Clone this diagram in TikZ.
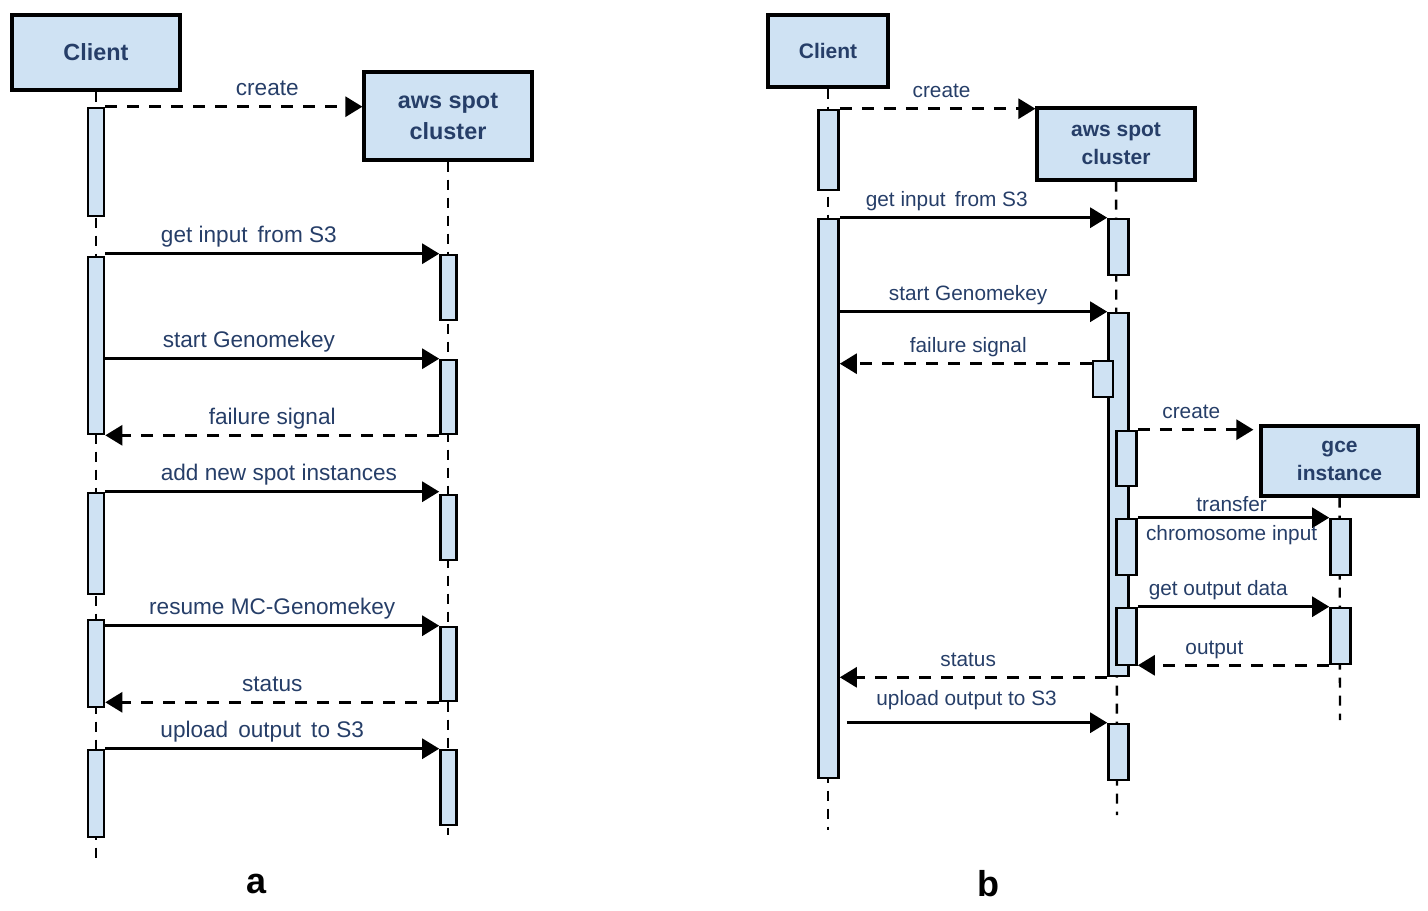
\documentclass[tikz,border=0pt]{standalone}
\usepackage{fontspec}
\setmainfont{Liberation Sans}
\usetikzlibrary{arrows.meta}
\definecolor{barblue}{RGB}{207,226,243}
\definecolor{textblue}{RGB}{38,62,104}

\begin{document}
\begin{tikzpicture}[x=0.5pt, y=-0.5pt,
	objbox/.style=		{rectangle, draw=black, fill=barblue, line width=1.6pt, inner sep=0pt, align=center, text=textblue},
	objboxa/.style=		{objbox, font=\bfseries\fontsize{11.7}{15.5}\selectfont},
	objboxb/.style=		{objbox, font=\bfseries\fontsize{10.5}{14}\selectfont},
	actbar/.style=		{rectangle, draw=black, fill=barblue, line width=1.3pt, inner sep=0pt, minimum width=8pt},
	actbarb/.style=		{actbar, minimum width=10pt},
	lifeline/.style=	{draw=black, line width=1.2pt, dash pattern=on 5pt off 4pt},
	call/.style=		{draw=black, line width=1.4pt, arrows={-{Triangle[length=8.5pt,width=10pt]}}},
	reply/.style=		{call, dash pattern=on 6pt off 5pt},
	msga/.style=		{anchor=base, yshift=5.5pt, inner sep=0pt, text=textblue, font=\fontsize{11.3}{13}\selectfont},
	msgb/.style=		{msga, font=\fontsize{10.4}{12}\selectfont},
	panel/.style=		{font=\bfseries\fontsize{18}{20}\selectfont}]
	\useasboundingbox (0,0) rectangle (1428,910);

	% --- a ---
	\node[objboxa, minimum width=84pt, minimum height=37.5pt] (clienta) at (96,52.5) {Client};
	\node[objboxa, minimum width=84pt, minimum height=44pt] (awsa) at (448,116) {aws spot\\cluster};
	\coordinate (clientaend) at (96,860);
	\coordinate (awsaend) at (448,835);
	\draw[lifeline] (clienta) -- (clientaend);
	\draw[lifeline] (awsa) -- (awsaend);

	\node[actbar, minimum height=54pt] (ca1) at (96,162) {};
	\node[actbar, minimum height=88.5pt] (ca2) at (96,345.5) {};
	\node[actbar, minimum height=50.5pt] (ca3) at (96,543.5) {};
	\node[actbar, minimum height=43.5pt] (ca4) at (96,663.5) {};
	\node[actbar, minimum height=43.5pt] (ca5) at (96,793.5) {};
	\node[actbar, minimum height=32.5pt] (sa1) at (448.5,287.5) {};
	\node[actbar, minimum height=37pt] (sa2) at (448.5,397) {};
	\node[actbar, minimum height=32.5pt] (sa3) at (448.5,527.5) {};
	\node[actbar, minimum height=37pt] (sa4) at (448.5,664) {};
	\node[actbar, minimum height=37.5pt] (sa5) at (448.5,787.5) {};

	\draw[reply] (ca1.north east) -- node[msga, pos=.63] {create} (ca1.north east -| awsa.west);
	\draw[call] (ca2.east |- sa1.north) -- node[msga, pos=.43] {get input\, from S3} (sa1.north west);
	\draw[call] (ca2.east |- sa2.north) -- node[msga, pos=.43] {start Genomekey} (sa2.north west);
	\draw[reply] (sa2.south west) -- node[msga, pos=.5] {failure signal} (ca2.south east);
	\draw[call] (ca3.north east) -- node[msga, pos=.52] {add new spot instances} (ca3.north east -| sa3.west);
	\draw[call] (ca4.east |- sa4.north) -- node[msga, pos=.5] {resume MC-Genomekey} (sa4.north west);
	\draw[reply] (sa4.south west) -- node[msga, pos=.5] {status} (ca4.east |- sa4.south);
	\draw[call] (ca5.north east) -- node[msga, pos=.47] {upload\, output\, to S3} (sa5.north west);

	\node[panel] (labela) at (257,884) {a};

	% --- b ---
	\node[objboxb, minimum width=60pt, minimum height=36pt] (clientb) at (828,51) {Client};
	\node[objboxb, minimum width=79pt, minimum height=36pt] (awsb) at (1116,144) {aws spot\\cluster};
	\node[objboxb, minimum width=78.5pt, minimum height=35pt] (gce) at (1339.5,461) {gce\\instance};
	\coordinate (clientbend) at (828,830);
	\coordinate (awsbend) at (1117,815);
	\coordinate (gceend) at (1340,720);
	\draw[lifeline] (clientb) -- (clientbend);
	\draw[lifeline] (awsb) -- (awsbend);
	\draw[lifeline] (gce) -- (gceend);

	\node[actbarb, minimum height=40pt] (cb1) at (828.5,150) {};
	\node[actbarb, minimum height=279.5pt] (cb2) at (828.5,498.5) {};
	\node[actbarb, minimum height=28pt] (sb1) at (1118.5,247) {};
	\node[actbarb, minimum height=181.5pt] (sb2) at (1118.5,494.5) {};
	\node[actbarb, minimum height=18pt] (sbf) at (1103,379) {};
	\node[actbarb, minimum height=27.5pt] (sbc) at (1126.5,458.5) {};
	\node[actbarb, minimum height=28pt] (sbt) at (1126.5,547) {};
	\node[actbarb, minimum height=28.5pt] (sbo) at (1126.5,636.5) {};
	\node[actbarb, minimum height=28pt] (sb3) at (1118.5,752) {};
	\node[actbarb, minimum height=28pt] (gb1) at (1340.5,547) {};
	\node[actbarb, minimum height=28pt] (gb2) at (1340.5,636) {};

	\draw[reply] (cb1.north east) -- node[msgb, pos=.52] {create} (cb1.north east -| awsb.west);
	\draw[call] (cb2.north east) -- node[msgb, pos=.4] {get input\, from S3} (sb1.north west);
	\draw[call] (cb2.east |- sb2.north) -- node[msgb, pos=.48] {start Genomekey} (sb2.north west);
	\draw[reply] ([yshift=-2pt]sbf.north west) -- node[msgb, pos=.49] {failure signal} ([yshift=-2pt]cb2.east |- sbf.north);
	\draw[reply, shorten >=3pt] (sbc.north east) -- node[msgb, pos=.44] {create} (sbc.north east -| gce.west);
	\draw[call] (sbt.north east) -- node[msgb, pos=.49, yshift=-2.5pt] {transfer}
		node[msgb, pos=.49, yshift=-17pt] {chromosome input} (gb1.north west);
	\draw[call] (sbo.north east) -- node[msgb, pos=.42] {get output data} (gb2.north west);
	\draw[reply] (gb2.south west) -- node[msgb, pos=.6] {output} (gb2.south west -| sbo.east);
	\draw[reply] (sb2.south west) -- node[msgb, pos=.52] {status} (cb2.east |- sb2.south);
	\draw[call] ([xshift=3.5pt]cb2.east |- sb3.north) -- node[msgb, pos=.46, yshift=3pt] {upload output to S3} (sb3.north west);

	\node[panel] (labelb) at (988,884) {b};
\end{tikzpicture}
\end{document}
